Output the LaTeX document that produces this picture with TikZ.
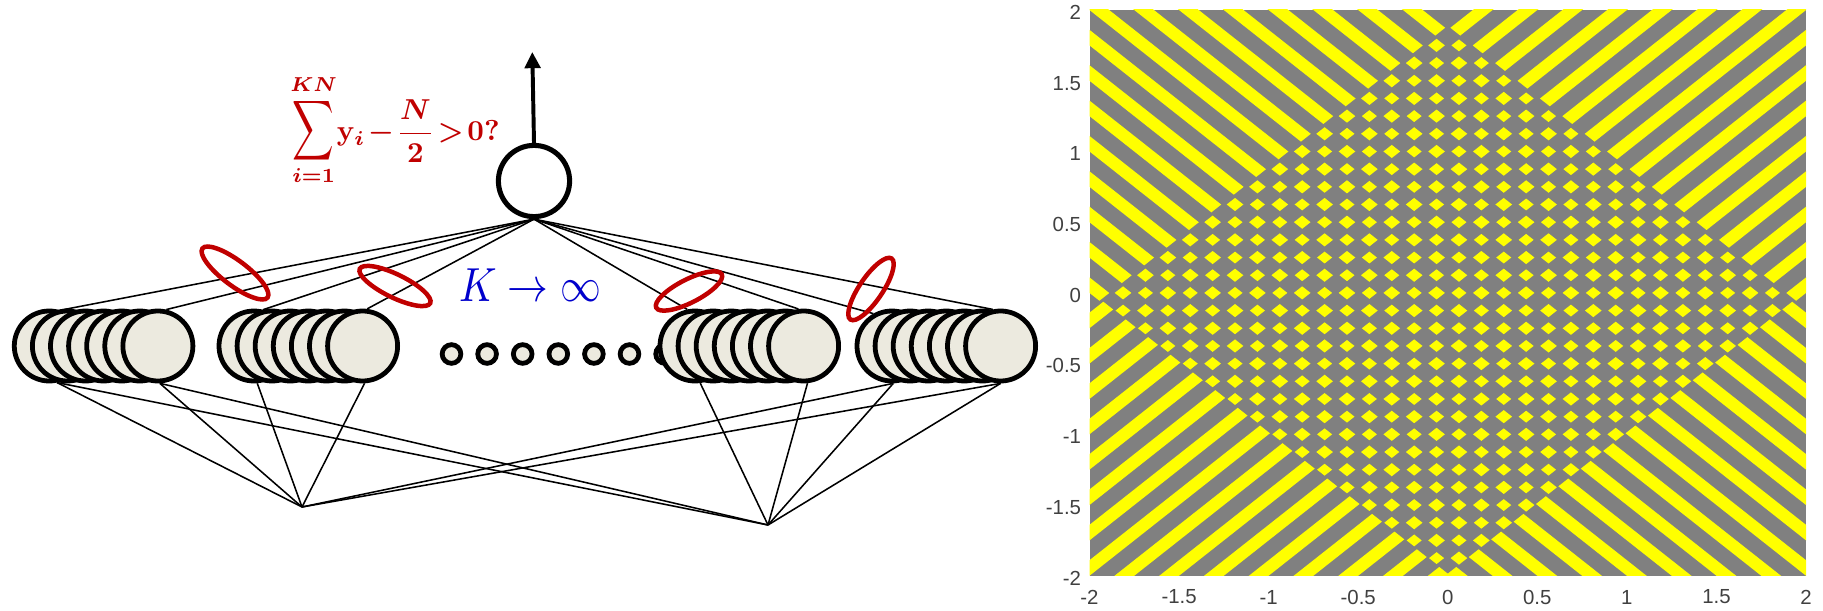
\documentclass[tikz,border=0pt]{standalone}
\usepackage{fontspec}
\usetikzlibrary{arrows.meta,shapes.geometric}
\newfontfamily\axisfont{Liberation Sans}
\definecolor{cream}{HTML}{ECEADF}
\definecolor{wred}{HTML}{C00000}
\definecolor{kblue}{HTML}{0000CC}
\definecolor{plotgray}{HTML}{808080}
\definecolor{plotyellow}{HTML}{FFFF00}
\definecolor{ticktext}{HTML}{404040}
\tikzset{
  unit/.style={circle,draw=black,fill=cream,line width=3.4pt,inner sep=0pt,minimum size=1.75cm},
  dotunit/.style={circle,draw=black,fill=cream,line width=3.4pt,inner sep=0pt,minimum size=0.467cm},
  topunit/.style={circle,draw=black,fill=white,line width=3.6pt,inner sep=0pt,minimum size=1.78cm},
  wire/.style={line width=1.1pt,draw=black},
  outarrow/.style={-{Triangle[length=11.5pt,width=11pt]},line width=2.8pt,draw=black},
  ring/.style={ellipse,draw=wred,line width=3.2pt,inner sep=0pt,fill=none},
  ticklab/.style={font=\axisfont\fontsize{14.5}{15}\selectfont,text=ticktext}
}
\newcommand{\uvbox}[4]{\fill[plotyellow] (#1,#3) -- (#2,#3) -- (#2,#4) -- (#1,#4) -- cycle;}
\begin{document}
\begin{tikzpicture}[x=0.025cm,y=-0.025cm]
    \useasboundingbox (0,0) rectangle (1823,611);

    % small dots between the groups
    \foreach \i in {0,...,6}
      \node[dotunit] (dot\i) at ({451.5+\i*35.6},354) {};

    % the four groups of hidden units
    \foreach \g/\xf in {1/49.3,2/254,3/695,4/892}
      \foreach \i in {0,...,6}
        \node[unit] (g\g-\i) at ({\xf+\i*18.1},346) {};

    \node[topunit] (top) at (534,181) {};
    \coordinate (outtip) at (532.3,52);
    \coordinate (inL) at (302,507);
    \coordinate (inR) at (768,525);

    \draw[outarrow] (top.north) -- (outtip);

    % output weights
    \draw[wire] (top.south) -- (g1-0.73);
    \draw[wire] (top.south) -- (g1-6.77);
    \draw[wire] (top.south) -- (g2-0.76);
    \draw[wire] (top.south) -- (g2-6.83);
    \draw[wire] (top.south) -- (g3-0.102);
    \draw[wire] (top.south) -- (g3-6.98);
    \draw[wire] (top.south) -- (g4-0.120);
    \draw[wire] (top.south) -- (g4-6.102);

    % input weights
    \foreach \a/\b in {g1-0.-78/inL,g1-0.-78/inR,g1-6.-87/inL,g1-6.-87/inR,
                       g2-0.-85/inL,g2-6.-87/inL,
                       g3-0.-82/inR,g3-6.-84/inR,
                       g4-0.-88/inR,g4-0.-88/inL,g4-6.-90/inR,g4-6.-90/inL}
      \draw[wire] (\a) -- (\b);

    % red marks over the wires
    \node[ring,rotate=-37,minimum width=2.04cm,minimum height=0.62cm] (w1) at (235,273) {};
    \node[ring,rotate=-26,minimum width=1.96cm,minimum height=0.58cm] (w2) at (395,286) {};
    \node[ring,rotate=27,minimum width=1.84cm,minimum height=0.58cm] (w3) at (689,291) {};
    \node[ring,rotate=56,minimum width=1.84cm,minimum height=0.58cm] (w4) at (871,289) {};

    \node[text=wred,scale=2.05] (rule) at (395,130)
      {{\boldmath\thickmuskip=2mu\medmuskip=1.5mu$\displaystyle\mathop{\scalebox{1}[1.45]{$\displaystyle\sum$}}_{i=1}^{KN}\!\mathbf{y}_i-\frac{N}{2}>\mathbf{0}$\textbf{?}}};
    \node[text=kblue,xscale=2.9,yscale=3.4] (limit) at (530,285) {$K\rightarrow\infty$};

    % decision regions
    \begin{scope}
      \clip (1089.5,10) rectangle (1806,575.7);
      \fill[plotgray] (1089.5,10) rectangle (1806,575.7);
      \begin{scope}[shift={(1447.75,292.9)},x={(2.2388cm,1.7675cm)},y={(2.2388cm,-1.7675cm)}]
        \foreach \k in {-8,...,7} {
          \pgfmathsetmacro\ua{0.25*\k}
          \pgfmathsetmacro\ub{\ua+0.11}
          \uvbox{\ua}{\ub}{-4.5}{-1.889}
          \uvbox{\ua}{\ub}{1.985}{4.5}
          \pgfmathsetmacro\va{0.14+0.25*\k}
          \pgfmathsetmacro\vb{\va+0.11}
          \uvbox{1.889}{4.5}{\va}{\vb}
          \uvbox{-4.5}{-1.985}{\va}{\vb}
        }
        \foreach \k in {-8,...,7}
          \foreach \j in {-7,...,7} {
            \pgfmathsetmacro\ua{0.0625+0.25*\k-0.042}
            \pgfmathsetmacro\ub{\ua+0.084}
            \pgfmathsetmacro\va{0.0625+0.25*\j-0.042}
            \pgfmathsetmacro\vb{\va+0.084}
            \uvbox{\ua}{\ub}{\va}{\vb}
          }
        \foreach \k in {0,...,14}
          \foreach \j in {-7,...,8} {
            \pgfmathsetmacro\ua{-1.8125+0.25*\k-0.0465}
            \pgfmathsetmacro\ub{\ua+0.093}
            \pgfmathsetmacro\va{-0.0625+0.25*\j-0.0465}
            \pgfmathsetmacro\vb{\va+0.093}
            \uvbox{\ua}{\ub}{\va}{\vb}
          }
      \end{scope}
    \end{scope}

    % axis numbers
    \foreach \t [count=\n from 0] in {-2,-1.5,-1,-0.5,0,0.5,1,1.5,2} {
      \node[ticklab] (xt\n) at ({1089.5+\n*89.56},597) {\t};
      \node[ticklab,anchor=east] (yt\n) at (1086,{578-\n*70.7}) {\t};
    }
\end{tikzpicture}
\end{document}
